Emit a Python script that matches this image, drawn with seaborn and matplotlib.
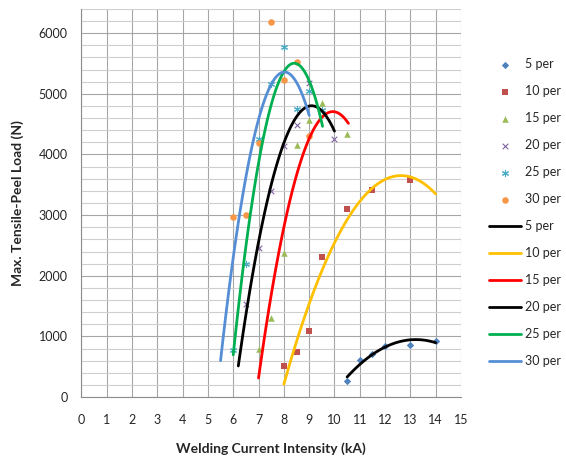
import numpy as np
import seaborn as sns
import matplotlib.pyplot as plt
from matplotlib.ticker import MultipleLocator

# Measured points (welding current kA, tensile-peel load N)
LABELS = ['5 per', '10 per', '15 per', '20 per', '25 per', '30 per']

x_5 = [10.5, 11, 11.5, 12, 13, 14]
y_5 = [265, 610, 710, 840, 860, 925]
x_10 = [8, 8.5, 9, 9.5, 10.5, 11.5, 13]
y_10 = [505, 740, 1095, 2315, 3100, 3415, 3580]
x_15 = [7, 7.5, 8, 8.5, 9, 9.5, 10.5]
y_15 = [790, 1300, 2380, 4150, 4570, 4850, 4335]
x_20 = [6.5, 7, 7.5, 8, 8.5, 9, 10]
y_20 = [1530, 2450, 3390, 4140, 4490, 5180, 4250]
x_25 = [6, 6.5, 7, 7.5, 8, 8.5, 9, 9.5]
y_25 = [770, 2200, 4250, 5165, 5775, 4750, 5050, 4740]
x_30 = [6, 6.5, 7, 7.5, 8, 8.5, 9]
y_30 = [2965, 3010, 4190, 6190, 5235, 5530, 4300]

# Points (2nd order)
fx_5 = [10.5, 11, 12, 13.2, 14]
fy_5 = [335, 528, 830, 945, 896]
fx_10 = [8, 9, 10.5, 11.5, 12.6, 14]
fy_10 = [226, 1490, 3000, 3390, 3663, 3350]
fx_15 = [7, 8, 9, 9.83, 10.55]
fy_15 = [347, 2716, 4296, 4752, 4477]
fx_20 = [6.2, 7, 8, 9.06, 10]
fy_20 = [545, 2480, 4240, 4802, 4378]
fx_25 = [6, 7, 8, 8.2, 8.44, 8.7, 9.53]
fy_25 = [750, 3724, 5396, 5495, 5533, 5478, 4417]
fx_30 = [5.5, 6, 7, 7.5, 7.75, 7.95, 8.2, 9]
fy_30 = [638, 2330, 4300, 5180, 5424, 5445, 5408, 4554]

POINTS = [(x_5, y_5), (x_10, y_10), (x_15, y_15), (x_20, y_20), (x_25, y_25), (x_30, y_30)]
FITS = [(fx_5, fy_5), (fx_10, fy_10), (fx_15, fy_15), (fx_20, fy_20), (fx_25, fy_25), (fx_30, fy_30)]

MARKER_COLORS = ['#4F81BD', '#C0504D', '#9BBB59', '#8064A2', '#4BACC6', '#F79646']
MARKERS = ['D', 's', '^', 'x', (6, 2, 0), 'o']
MARKER_SIZES = [14, 22, 22, 16, 20, 22]
LINE_COLORS = ['#000000', '#FFC000', '#FF0000', '#000000', '#00B050', '#558ED5']

sns.set_theme(style='white')
plt.rcParams['font.family'] = ['Lato', 'DejaVu Sans']

fig = plt.figure(figsize=(5.66, 4.63), dpi=100)
ax = fig.add_axes([0.1438, 0.1425, 0.6707, 0.8381])

handles = []
for (xs, ys), lab, c, m, s in zip(POINTS, LABELS, MARKER_COLORS, MARKERS, MARKER_SIZES):
    h = ax.scatter(xs, ys, marker=m, s=s, color=c, linewidths=0.8 if m in ('x', (6, 2, 0)) else 0,
                   label=lab, zorder=3)
    handles.append(h)

for (xs, ys), lab, c in zip(FITS, LABELS, LINE_COLORS):
    sns.regplot(x=xs, y=ys, order=2, scatter=False, ci=None, truncate=True, ax=ax,
                line_kws=dict(color=c, lw=2.0, label=lab, zorder=4))
    handles.append(ax.lines[-1])

ax.set_xlim(0, 15)
ax.set_ylim(0, 6400)
ax.xaxis.set_major_locator(MultipleLocator(1))
ax.yaxis.set_major_locator(MultipleLocator(1000))
ax.yaxis.set_minor_locator(MultipleLocator(200))
ax.grid(True, axis='x', which='major', color='#a6a6a6', lw=0.8)
ax.grid(True, axis='y', which='major', color='#a6a6a6', lw=0.8)
ax.grid(True, axis='y', which='minor', color='#cfcfcf', lw=0.8)
ax.set_axisbelow(True)

for side in ['top', 'right']:
    ax.spines[side].set_visible(False)
for side in ['left', 'bottom']:
    ax.spines[side].set_color('#8c8c8c')
    ax.spines[side].set_linewidth(0.8)

ax.tick_params(axis='both', which='major', direction='out', length=4, width=0.8,
               color='#8c8c8c', labelsize=9, labelcolor='#262626', pad=6)
ax.tick_params(axis='y', which='minor', length=0)
ax.tick_params(axis='x', which='major', pad=8)

ax.set_xlabel('Welding Current Intensity (kA)', fontsize=10, fontweight='bold', labelpad=12)
ax.set_ylabel('Max. Tensile-Peel Load (N)', fontsize=10, fontweight='bold', labelpad=10)

fig.legend(handles=handles, labels=LABELS + LABELS, loc='upper left',
           bbox_to_anchor=(0.855, 0.885), frameon=False, fontsize=9,
           handlelength=2.6, handletextpad=0.3, labelspacing=1.2, borderaxespad=0)

fig.savefig('out.png', dpi=100)
